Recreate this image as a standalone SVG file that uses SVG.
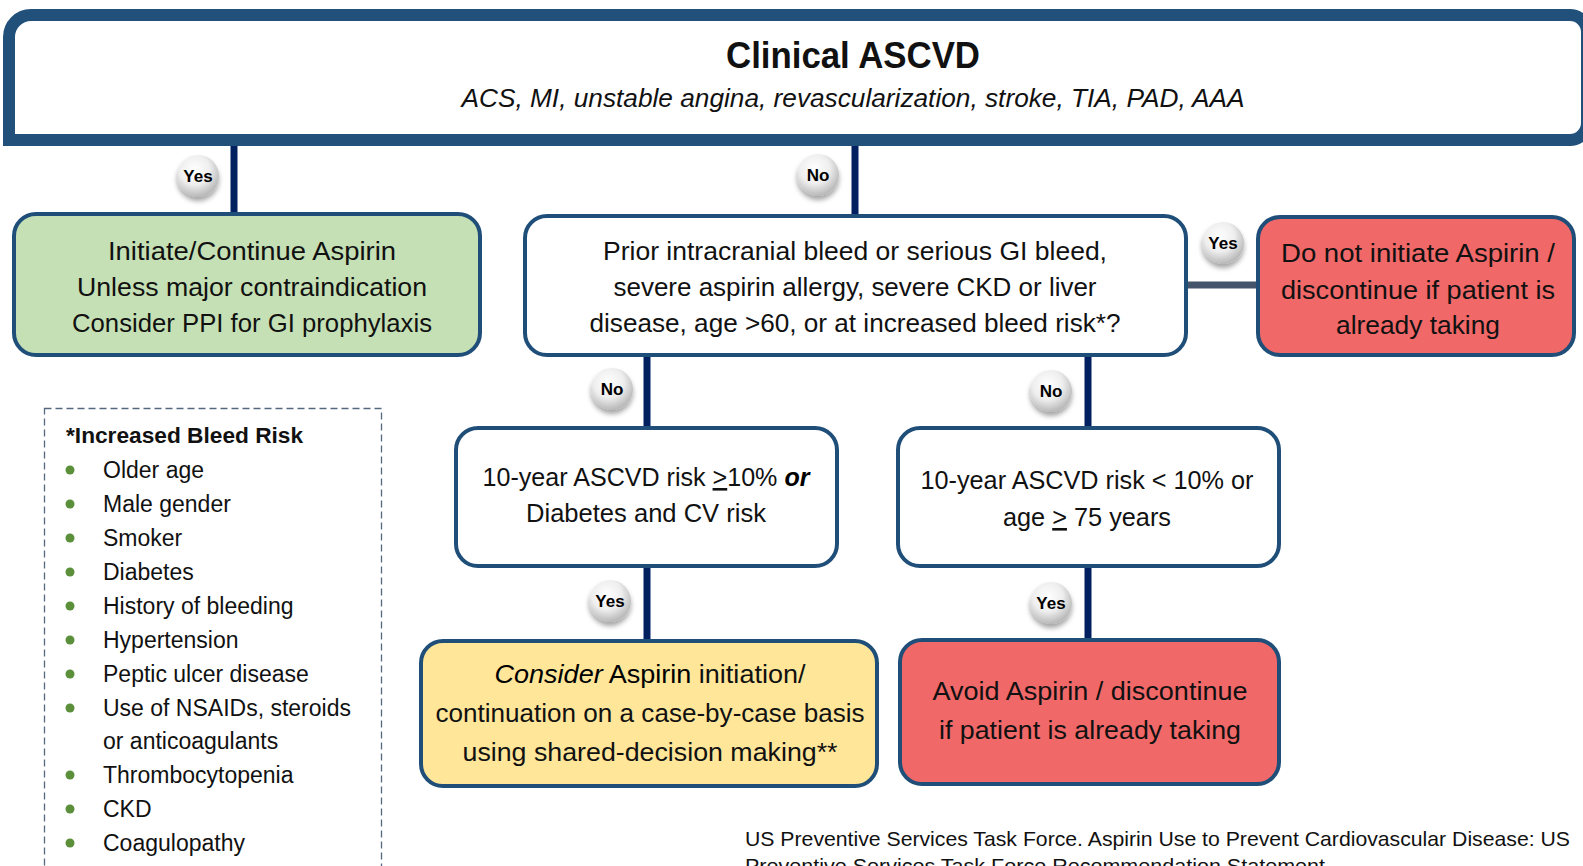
<svg xmlns="http://www.w3.org/2000/svg" width="1583" height="866" viewBox="0 0 1583 866">
<defs>
<radialGradient id="bubG" cx="42%" cy="35%" r="65%">
<stop offset="0" stop-color="#ffffff"/>
<stop offset="0.55" stop-color="#eeeeee"/>
<stop offset="1" stop-color="#b8b8b8"/>
</radialGradient>
<filter id="sh" x="-40%" y="-40%" width="180%" height="190%">
<feDropShadow dx="0" dy="4" stdDeviation="2.5" flood-color="#000" flood-opacity="0.35"/>
</filter>
</defs>
<style>
.t{font-family:"Liberation Sans",Arial,sans-serif;fill:#111;}
.box{stroke:#1F4E79;stroke-width:4;}
.v{stroke:#002060;stroke-width:7;fill:none;}
.h{stroke:#44546A;stroke-width:7;fill:none;}
.bub{fill:url(#bubG);filter:url(#sh);}
.bt{font-family:"Liberation Sans",Arial,sans-serif;font-weight:bold;font-size:17px;fill:#000;text-anchor:middle;}
.bx{font-size:26px;text-anchor:middle;}
.li{font-size:23px;}
.dot{fill:#5B8F3A;}
</style>
<rect width="1583" height="866" fill="#ffffff"/>

<g id="connectors">
<line class="v" x1="234" y1="145" x2="234" y2="213"/>
<line class="v" x1="855" y1="145" x2="855" y2="215"/>
<line class="h" x1="1187" y1="285" x2="1257" y2="285"/>
<line class="v" x1="647" y1="356" x2="647" y2="427"/>
<line class="v" x1="1088" y1="356" x2="1088" y2="427"/>
<line class="v" x1="647" y1="567" x2="647" y2="640"/>
<line class="v" x1="1088" y1="567" x2="1088" y2="639"/>
</g>

<g id="clinical-ascvd">
<path d="M9,140 L9,37 A22,22 0 0 1 31,15 L1570,15 A17,17 0 0 1 1587,32 L1587,123 A17,17 0 0 1 1570,140 Z" fill="#ffffff" stroke="#21507A" stroke-width="12"/>
<text class="t" x="853" y="68" font-size="36" font-weight="bold" text-anchor="middle" fill="#000" textLength="254" lengthAdjust="spacingAndGlyphs">Clinical ASCVD</text>
<text class="t" x="853" y="107" font-size="25" font-style="italic" text-anchor="middle" fill="#000" textLength="783" lengthAdjust="spacingAndGlyphs">ACS, MI, unstable angina, revascularization, stroke, TIA, PAD, AAA</text>
</g>

<g id="initiate">
<rect class="box" x="14" y="214" width="466" height="141" rx="22" fill="#C5E0B4"/>
<text class="t bx" x="252" y="260" textLength="288" lengthAdjust="spacingAndGlyphs">Initiate/Continue Aspirin</text>
<text class="t bx" x="252" y="296" textLength="350" lengthAdjust="spacingAndGlyphs">Unless major contraindication</text>
<text class="t bx" x="252" y="332" textLength="360" lengthAdjust="spacingAndGlyphs">Consider PPI for GI prophylaxis</text>
</g>

<g id="bleed-question">
<rect class="box" x="525" y="216" width="661" height="139" rx="22" fill="#ffffff"/>
<text class="t bx" x="855" y="260" textLength="504" lengthAdjust="spacingAndGlyphs">Prior intracranial bleed or serious GI bleed,</text>
<text class="t bx" x="855" y="296" textLength="483" lengthAdjust="spacingAndGlyphs">severe aspirin allergy, severe CKD or liver</text>
<text class="t bx" x="855" y="332" textLength="531" lengthAdjust="spacingAndGlyphs">disease, age &gt;60, or at increased bleed risk*?</text>
</g>

<g id="do-not-initiate">
<rect class="box" x="1258" y="217" width="316" height="138" rx="22" fill="#F06868"/>
<text class="t bx" x="1418" y="262" font-size="27" fill="#000" textLength="274" lengthAdjust="spacingAndGlyphs">Do not initiate Aspirin /</text>
<text class="t bx" x="1418" y="299" font-size="27" fill="#000" textLength="274" lengthAdjust="spacingAndGlyphs">discontinue if patient is</text>
<text class="t bx" x="1418" y="334" font-size="27" fill="#000" textLength="164" lengthAdjust="spacingAndGlyphs">already taking</text>
</g>

<g id="risk-high">
<rect class="box" x="456" y="428" width="381" height="138" rx="22" fill="#ffffff"/>
<text class="t bx" x="646" y="486" textLength="327" lengthAdjust="spacingAndGlyphs">10-year ASCVD risk <tspan text-decoration="underline">&gt;</tspan>10% <tspan font-weight="bold" font-style="italic" fill="#000">or</tspan></text>
<text class="t bx" x="646" y="522" textLength="240" lengthAdjust="spacingAndGlyphs">Diabetes and CV risk</text>
</g>

<g id="risk-low">
<rect class="box" x="898" y="428" width="381" height="138" rx="22" fill="#ffffff"/>
<text class="t bx" x="1087" y="489" textLength="333" lengthAdjust="spacingAndGlyphs">10-year ASCVD risk &lt; 10% or</text>
<text class="t bx" x="1087" y="526" textLength="168" lengthAdjust="spacingAndGlyphs">age <tspan text-decoration="underline">&gt;</tspan> 75 years</text>
</g>

<g id="consider">
<rect class="box" x="421" y="641" width="456" height="145" rx="22" fill="#FFE699"/>
<text class="t bx" x="650" y="683" textLength="311" lengthAdjust="spacingAndGlyphs"><tspan font-style="italic" fill="#000">Consider</tspan><tspan fill="#000"> Aspirin</tspan> initiation/</text>
<text class="t bx" x="650" y="722" textLength="429" lengthAdjust="spacingAndGlyphs">continuation on a case-by-case basis</text>
<text class="t bx" x="650" y="761" textLength="375" lengthAdjust="spacingAndGlyphs">using shared-decision making**</text>
</g>

<g id="avoid">
<rect class="box" x="900" y="640" width="379" height="144" rx="22" fill="#F06868"/>
<text class="t bx" x="1090" y="700" font-size="27" fill="#000" textLength="315" lengthAdjust="spacingAndGlyphs">Avoid Aspirin / discontinue</text>
<text class="t bx" x="1090" y="739" font-size="27" fill="#000" textLength="302" lengthAdjust="spacingAndGlyphs">if patient is already taking</text>
</g>

<g id="label-yes-1"><circle class="bub" cx="198" cy="176" r="21"/><text class="bt" x="198" y="182">Yes</text></g>
<g id="label-no-1"><circle class="bub" cx="818" cy="175" r="21"/><text class="bt" x="818" y="181">No</text></g>
<g id="label-yes-2"><circle class="bub" cx="1223" cy="243" r="21"/><text class="bt" x="1223" y="249">Yes</text></g>
<g id="label-no-2"><circle class="bub" cx="612" cy="389" r="21"/><text class="bt" x="612" y="395">No</text></g>
<g id="label-no-3"><circle class="bub" cx="1051" cy="391" r="21"/><text class="bt" x="1051" y="397">No</text></g>
<g id="label-yes-3"><circle class="bub" cx="610" cy="601" r="21"/><text class="bt" x="610" y="607">Yes</text></g>
<g id="label-yes-4"><circle class="bub" cx="1051" cy="603" r="21"/><text class="bt" x="1051" y="609">Yes</text></g>

<g id="bleed-risk-legend">
<rect x="44.5" y="408.5" width="337" height="480" fill="none" stroke="#55687F" stroke-width="1.3" stroke-dasharray="7 4"/>
<text class="t" x="66" y="443" font-size="22.7" font-weight="bold" fill="#000">*Increased Bleed Risk</text>
<circle class="dot" cx="70" cy="470" r="4.5"/><text class="t li" x="103" y="478">Older age</text>
<circle class="dot" cx="70" cy="504" r="4.5"/><text class="t li" x="103" y="512">Male gender</text>
<circle class="dot" cx="70" cy="538" r="4.5"/><text class="t li" x="103" y="546">Smoker</text>
<circle class="dot" cx="70" cy="572" r="4.5"/><text class="t li" x="103" y="580">Diabetes</text>
<circle class="dot" cx="70" cy="606" r="4.5"/><text class="t li" x="103" y="614">History of bleeding</text>
<circle class="dot" cx="70" cy="640" r="4.5"/><text class="t li" x="103" y="648">Hypertension</text>
<circle class="dot" cx="70" cy="674" r="4.5"/><text class="t li" x="103" y="682">Peptic ulcer disease</text>
<circle class="dot" cx="70" cy="708" r="4.5"/><text class="t li" x="103" y="716">Use of NSAIDs, steroids</text>
<text class="t li" x="103" y="749">or anticoagulants</text>
<circle class="dot" cx="70" cy="775" r="4.5"/><text class="t li" x="103" y="783">Thrombocytopenia</text>
<circle class="dot" cx="70" cy="809" r="4.5"/><text class="t li" x="103" y="817">CKD</text>
<circle class="dot" cx="70" cy="843" r="4.5"/><text class="t li" x="103" y="851">Coagulopathy</text>
</g>

<g id="citation">
<text class="t" x="745" y="846" font-size="21" fill="#000" textLength="825" lengthAdjust="spacingAndGlyphs">US Preventive Services Task Force. Aspirin Use to Prevent Cardiovascular Disease: US</text>
<text class="t" x="745" y="873" font-size="21" fill="#000" textLength="580" lengthAdjust="spacingAndGlyphs">Preventive Services Task Force Recommendation Statement</text>
</g>
</svg>
